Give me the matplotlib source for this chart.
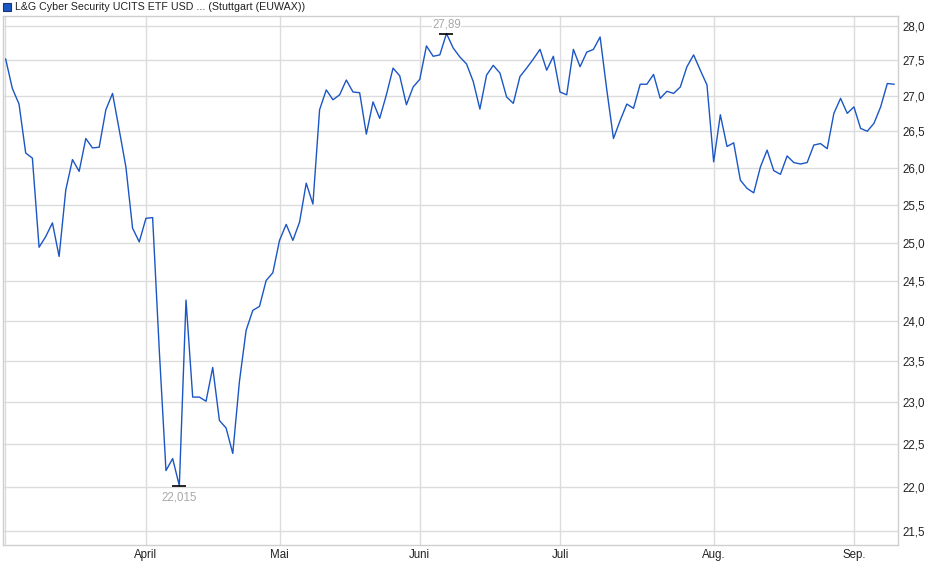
import numpy as np
import matplotlib.pyplot as plt
from matplotlib.ticker import FixedLocator, FuncFormatter, NullLocator

plt.rcParams['font.family'] = ['Liberation Sans', 'DejaVu Sans']

# daily closing prices, one per trading day (index based x axis)
prices = [27.52, 27.10, 26.88, 26.20, 26.13, 24.94, 25.08, 25.26, 24.82, 25.70,
          26.11, 25.95, 26.40, 26.27, 26.28, 26.80, 27.03, 26.52, 26.01, 25.19,
          25.01, 25.32, 25.33, 23.63, 22.19, 22.33, 22.015, 24.26, 23.06, 23.06,
          23.01, 23.42, 22.78, 22.69, 22.39, 23.25, 23.88, 24.13, 24.18, 24.51,
          24.61, 25.03, 25.24, 25.03, 25.27, 25.79, 25.51, 26.80, 27.08, 26.94,
          27.01, 27.22, 27.05, 27.04, 26.46, 26.91, 26.68, 27.01, 27.39, 27.28,
          26.87, 27.12, 27.23, 27.71, 27.56, 27.58, 27.89, 27.68, 27.55, 27.45,
          27.20, 26.81, 27.29, 27.43, 27.32, 26.98, 26.89, 27.27, 27.39, 27.52,
          27.66, 27.36, 27.56, 27.05, 27.01, 27.66, 27.41, 27.62, 27.66, 27.84,
          27.08, 26.40, 26.65, 26.88, 26.82, 27.16, 27.16, 27.30, 26.96, 27.06,
          27.03, 27.12, 27.41, 27.58, 27.36, 27.15, 26.08, 26.73, 26.29, 26.34,
          25.83, 25.72, 25.66, 26.01, 26.24, 25.96, 25.91, 26.16, 26.07, 26.05,
          26.07, 26.31, 26.33, 26.26, 26.75, 26.96, 26.75, 26.84, 26.54, 26.50,
          26.61, 26.84, 27.17, 27.16]

# first trading day of each month (index into prices)
month_idx = [21, 41, 62, 83, 106, 127]
month_labels = ['April', 'Mai', 'Juni', 'Juli', 'Aug.', 'Sep.']

y_ticks = [21.5, 22.0, 22.5, 23.0, 23.5, 24.0, 24.5, 25.0, 25.5, 26.0, 26.5, 27.0, 27.5, 28.0]

title = 'L&G Cyber Security UCITS ETF USD ... (Stuttgart (EUWAX))'

line_color = '#1a56c4'
grid_color = '#dcdcdc'

x = np.arange(len(prices))
y = np.array(prices)

fig = plt.figure(figsize=(9.4, 5.79), dpi=100)
ax = fig.add_axes([3 / 940, 34 / 579, 895 / 940, 529 / 579])

ax.plot(x, y, color=line_color, lw=1.0, zorder=3)

ax.set_yscale('log')
ax.set_ylim(21.343, 28.147)
ax.set_xlim(-0.4, 133.6)

ax.yaxis.set_major_locator(FixedLocator(y_ticks))
ax.yaxis.set_minor_locator(NullLocator())
ax.yaxis.set_major_formatter(FuncFormatter(lambda v, p: f"{v:.1f}".replace('.', ',')))
ax.xaxis.set_major_locator(FixedLocator(month_idx))
ax.xaxis.set_minor_locator(NullLocator())
ax.set_xticklabels(month_labels)

ax.tick_params(axis='y', left=False, labelleft=False, right=True, labelright=True,
               length=0, pad=3, labelsize=8.3, labelcolor='#222222')
ax.tick_params(axis='x', length=0, pad=3, labelsize=8.3, labelcolor='#222222')

ax.grid(True, color=grid_color, lw=1.0, zorder=0)
ax.axvline(-0.14, color=grid_color, lw=1.0, zorder=0)
for s in ax.spines.values():
    s.set_color('#cfcfcf')
    s.set_linewidth(1.0)

# min / max markers
i_max = int(np.argmax(y))
i_min = int(np.argmin(y))
for i, off, va in [(i_max, 2.5, 'bottom'), (i_min, -4, 'top')]:
    ax.plot(x[i], y[i], marker='_', markersize=10, mew=1.2, color='black', zorder=4)
    ax.annotate(f"{y[i]:g}".replace('.', ','), (x[i], y[i]), xytext=(0, off),
                textcoords='offset points', ha='center', va=va, fontsize=8.3,
                color='#a8a8a8', zorder=5,
                bbox=dict(boxstyle='square,pad=0.05', fc='white', ec='none'))

# legend style header
fig.patches.append(plt.Rectangle((3 / 940, 1 - 11 / 579), 8 / 940, 8 / 579,
                                 transform=fig.transFigure, fc='#1a56c4',
                                 ec='#1a3570', lw=0.8))
fig.text(15 / 940, 1 - 7 / 579, title, ha='left', va='center', fontsize=7.7, color='#222222')

fig.savefig('out.png', dpi=100)
